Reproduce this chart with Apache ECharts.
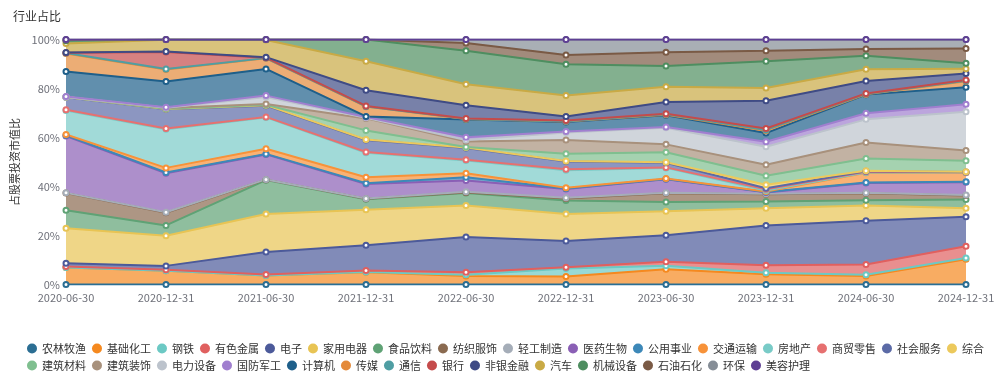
<!DOCTYPE html>
<html>
<head>
<meta charset="utf-8">
<script src="https://cdn.jsdelivr.net/npm/echarts@6/dist/echarts.min.js"></script>
<style>
html,body{margin:0;padding:0;background:#fff;}
#c{width:999px;height:380px;}
</style>
</head>
<body>
<div id="c"></div>
<script>
var dates = ['2020-06-30','2020-12-31','2021-06-30','2021-12-31','2022-06-30','2022-12-31','2023-06-30','2023-12-31','2024-06-30','2024-12-31'];

var industries = ['农林牧渔','基础化工','钢铁','有色金属','电子','家用电器','食品饮料','纺织服饰','轻工制造','医药生物','公用事业','交通运输','房地产','商贸零售','社会服务','综合','建筑材料','建筑装饰','电力设备','国防军工','计算机','传媒','通信','银行','非银金融','汽车','机械设备','石油石化','环保','美容护理'];

var v_nonglin   = [0,0,0,0,0,0,0,0,0,0];
var v_jichuhg   = [6.9,5.6,3.7,5.0,3.5,3.3,6.2,4.2,3.5,10.3];
var v_gangtie   = [0,0,0,0.1,0.5,3.2,1.5,0.6,0.5,0.5];
var v_youse     = [0.4,0.4,0.4,0.6,1.0,0.5,1.6,3.1,4.2,4.8];
var v_dianzi    = [1.4,1.6,9.2,10.3,14.4,10.8,10.8,16.2,17.8,12.1];
var v_jiadian   = [14.3,12.3,15.5,14.5,12.8,11.0,9.8,7.0,6.2,3.4];
var v_shipin    = [7.3,4.2,13.8,4.3,5.1,5.5,3.8,2.8,2.2,3.6];
var v_fangzhi   = [7.0,5.2,0.2,0.2,0.3,0.8,3.5,2.9,2.8,1.6];
var v_qinggong  = [0.1,0.2,0.1,0.1,0.3,0.3,0.2,0.2,0.2,0.2];
var v_yiyao     = [23.2,15.9,10.2,5.9,4.5,3.6,5.6,0.6,4.0,5.2];
var v_gongyong  = [0.3,0.3,0.2,0.3,1.4,0.2,0.1,0.2,0.2,0.2];
var v_jiaotong  = [0.3,1.9,2.1,2.5,1.6,0.3,0.2,0.2,4.0,3.7];
var v_fangdc    = [9.8,15.8,12.8,10.0,5.2,7.1,4.3,0.4,0.1,0.1];
var v_shangmao  = [0.3,0.3,0.2,0.3,0.3,0.4,0.2,0.5,0.3,0.1];
var v_shehui    = [5.1,7.8,4.6,4.9,4.8,3.2,1.9,0.4,0.2,0.1];
var v_zonghe    = [0.1,0.1,0.2,0.2,0.2,0.2,0.2,1.4,0.2,0.1];
var v_jiancai   = [0,0.1,0.2,3.7,0.2,3.0,4.1,3.7,5.0,4.5];
var v_jianzhuang= [0,0.3,0.3,4.9,2.3,5.6,3.2,4.5,6.6,4.2];
var v_dianli    = [0,0.1,2.8,0.3,0.6,3.0,6.8,7.3,9.4,15.8];
var v_guofang   = [0.2,0.2,0.6,0.3,1.1,0.4,0.3,2.1,2.5,3.1];
var v_jisuanji  = [10.2,10.6,10.9,0.2,7.2,3.9,4.8,3.5,7.6,6.9];
var v_chuanmei  = [7.4,4.9,4.3,4.0,0.2,0.2,0.2,1.0,0.1,2.5];
var v_tongxin   = [0.2,0.2,0.1,0.1,0.1,0.1,0.2,0.3,0.2,0.2];
var v_yinhang   = [0.1,6.9,0.2,0.2,0.2,0.3,0.2,0.6,0.2,0.3];
var v_feiyin    = [0.1,0.2,0.2,6.4,5.4,1.7,4.8,11.3,5.1,2.6];
var v_qiche     = [3.7,4.8,7.0,11.8,8.5,8.5,6.2,5.2,4.8,2.0];
var v_jixie     = [1.1,0.1,0.2,8.9,13.7,12.8,8.5,10.9,5.5,2.2];
var v_shiyou    = [0.3,0,0,0,3.2,3.8,5.6,4.3,2.7,6.0];
var v_huanbao    = [0.2,0,0,0,1.4,6.3,5.2,4.6,3.9,3.7];
var v_meirong   = [0,0,0,0,0,0,0,0,0,0];

var values = [v_nonglin,v_jichuhg,v_gangtie,v_youse,v_dianzi,v_jiadian,v_shipin,v_fangzhi,v_qinggong,v_yiyao,v_gongyong,v_jiaotong,v_fangdc,v_shangmao,v_shehui,v_zonghe,v_jiancai,v_jianzhuang,v_dianli,v_guofang,v_jisuanji,v_chuanmei,v_tongxin,v_yinhang,v_feiyin,v_qiche,v_jixie,v_shiyou,v_huanbao,v_meirong];

var colors = ['#2b6e93','#f5891f','#6cc9c4','#e0605f','#4c5a9a','#e8c454','#5fa275','#8a6a50','#a5adb8','#8a5fb5','#3d88b8','#f79239','#79cbc7','#e67070','#5b6aa6','#ecc95c','#7fbf8f','#a8917c','#bcc3cc','#a07fcf','#1e5f8a','#e48a3a','#4f9ea3','#c54b4b','#3f4b85','#c9aa45','#4e8e60','#7a5a45','#858d96','#5e3f94'];

var yTicks = [0,20,40,60,80,100];

var series = industries.map(function(name,i){
  return {
    name: name,
    type: 'line',
    stack: 'total',
    data: values[i],
    symbol: 'emptyCircle',
    symbolSize: 5,
    showSymbol: true,
    lineStyle: {width: 2, color: colors[i]},
    itemStyle: {color: colors[i], borderWidth: 1.5},
    areaStyle: {color: colors[i], opacity: 0.7},
    emphasis: {disabled: true},
    animation: false
  };
});

var chart = echarts.init(document.getElementById('c'), null, {renderer:'canvas'});
chart.setOption({
  animation: false,
  color: colors,
  title: {text: '行业占比', left: 8, top: 5, textStyle: {fontSize: 12, fontWeight: 'normal', color: '#333', fontFamily: 'Noto Sans CJK SC'}},
  legend: {
    data: industries,
    icon: 'circle',
    itemWidth: 10,
    itemHeight: 10,
    itemGap: 6,
    left: 22,
    top: 338,
    width: 962,
    textStyle: {fontSize: 11, color: '#333', fontFamily: 'Noto Sans CJK SC'}
  },
  grid: {left: 66, right: 33, top: 39.5, bottom: 95.5, containLabel: false},
  xAxis: {
    type: 'category',
    data: dates,
    boundaryGap: false,
    axisLine: {show: false},
    axisTick: {show: false},
    axisLabel: {fontSize: 11, color: '#6e7079', margin: 8, fontFamily: 'Noto Sans CJK SC'}
  },
  yAxis: {
    type: 'value',
    min: yTicks[0],
    max: yTicks[yTicks.length-1],
    interval: 20,
    name: '占股票投资市值比',
    nameLocation: 'middle',
    nameRotate: 90,
    nameGap: 46,
    nameTextStyle: {fontSize: 11, color: '#333', fontFamily: 'Noto Sans CJK SC'},
    axisLine: {show: false},
    axisTick: {show: false},
    splitLine: {show: false},
    axisLabel: {fontSize: 11, color: '#6e7079', margin: 6, formatter: '{value}%', fontFamily: 'Noto Sans CJK SC'}
  },
  series: series
});
</script>
</body>
</html>
